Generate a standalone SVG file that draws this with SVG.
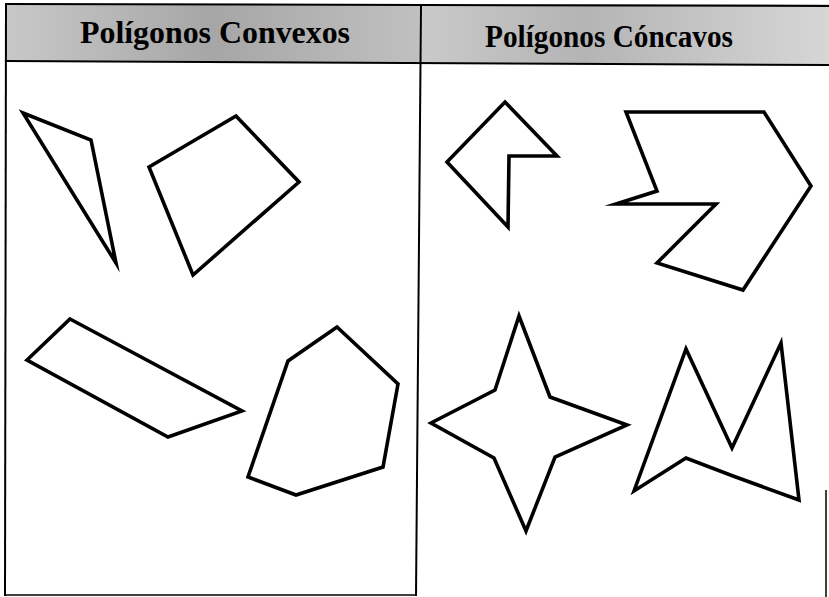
<svg xmlns="http://www.w3.org/2000/svg" width="829" height="597" viewBox="0 0 829 597">
<style>
.shape{fill:none;stroke:#000;stroke-width:3.6;stroke-linejoin:miter;stroke-miterlimit:10}
.border{stroke:#000;stroke-width:2;fill:none}
.title{font-family:"Liberation Serif","Times New Roman",serif;font-weight:bold;font-size:31px;fill:#000}
</style>
<defs>
<linearGradient id="hdrL" x1="0" y1="0" x2="1" y2="0">
<stop offset="0" stop-color="#c8c8c8"/>
<stop offset="0.5" stop-color="#a6a6a6"/>
<stop offset="1" stop-color="#c0c0c0"/>
</linearGradient>
<linearGradient id="hdrR" x1="0" y1="0" x2="1" y2="0">
<stop offset="0" stop-color="#cacaca"/>
<stop offset="0.4" stop-color="#b4b4b4"/>
<stop offset="1" stop-color="#d6d6d6"/>
</linearGradient>
</defs>
<rect width="829" height="597" fill="#fff"/>
<g id="header">
<rect x="6" y="4" width="413" height="58" fill="url(#hdrL)"/>
<rect x="419" y="4" width="410" height="60" fill="url(#hdrR)"/>
<line class="border" x1="5" y1="4" x2="829" y2="6"/>
<line class="border" x1="5" y1="61" x2="829" y2="65"/>
<text class="title" x="80" y="43" textLength="270" lengthAdjust="spacingAndGlyphs">Polígonos Convexos</text>
<text class="title" x="485" y="47" textLength="248" lengthAdjust="spacingAndGlyphs">Polígonos Cóncavos</text>
</g>
<g id="frame">
<line class="border" x1="6" y1="4" x2="5" y2="596"/>
<line class="border" x1="421" y1="4" x2="416" y2="596"/>
<line x1="5" y1="595" x2="416" y2="595" stroke="#000" stroke-width="1.5"/>
<line x1="826" y1="490" x2="826" y2="597" stroke="#000" stroke-width="1.5"/>
</g>
<g id="convex-triangle"><polygon class="shape" points="23,113 91,140 116,263"/></g>
<g id="convex-quad"><polygon class="shape" points="149,167 236,116 299,182 193,275"/></g>
<g id="convex-parallelogram"><polygon class="shape" points="70,319 242,411 168,437 27,360"/></g>
<g id="convex-heptagon"><polygon class="shape" points="337,327 398,384 383,467 296,495 248,477 288,361"/></g>
<g id="concave-arrow"><polygon class="shape" points="505,102 557,156 509,156 508,227 447,162"/></g>
<g id="concave-big"><polygon class="shape" points="626,112 764,112 811,186 743,290 657,263 716,204 616,204 657,191"/></g>
<g id="concave-star"><polygon class="shape" points="519,316 550,397 627,425 555,457 526,531 494,458 431,423 495,390"/></g>
<g id="concave-m"><polygon class="shape" points="634,491 686,349 732,448 781,343 799,500 733,476 686,458"/></g>
</svg>
